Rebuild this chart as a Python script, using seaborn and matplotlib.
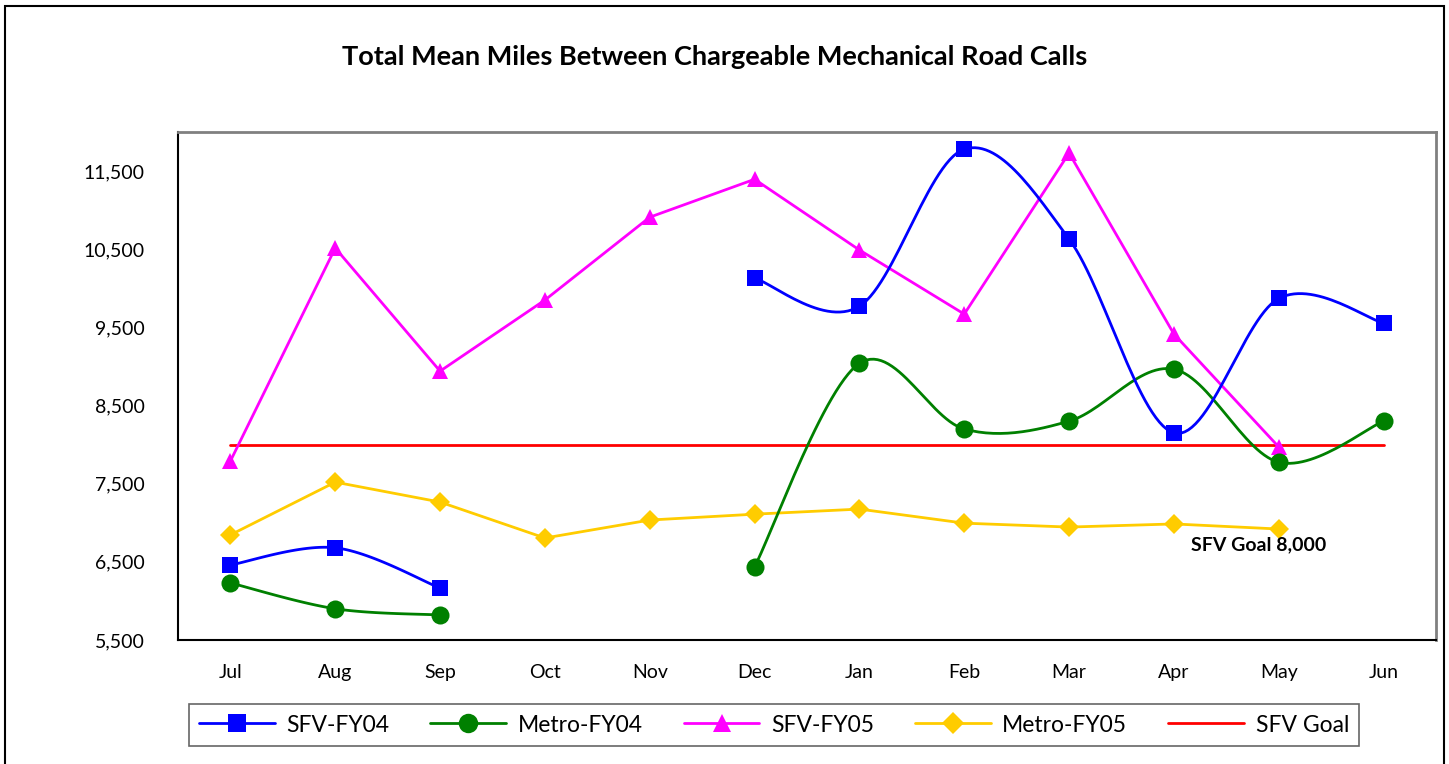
import numpy as np
import pandas as pd
import matplotlib
matplotlib.use("Agg")
import matplotlib.pyplot as plt
from matplotlib.lines import Line2D
from matplotlib.patches import Rectangle
import seaborn as sns

months = ["Jul", "Aug", "Sep", "Oct", "Nov", "Dec", "Jan", "Feb", "Mar", "Apr", "May", "Jun"]
sfv_fy04 = [6460, 6680, 6165, None, None, 10130, 9770, 11780, 10630, 8150, 9870, 9555]
metro_fy04 = [6230, 5900, 5820, None, None, 6435, 9040, 8200, 8300, 8965, 7775, 8300]
sfv_fy05 = [7790, 10515, 8940, 9850, 10910, 11395, 10490, 9670, 11730, 9415, 7970, None]
metro_fy05 = [6845, 7520, 7265, 6805, 7035, 7110, 7175, 6995, 6945, 6985, 6920, None]
sfv_goal = 8000

C_SFV04 = "#0000ff"
C_MET04 = "#008000"
C_SFV05 = "#ff00ff"
C_MET05 = "#ffcc00"
C_GOAL = "#ff0000"


def smooth_segments(vals, steps=30):
    # excel style smoothed line: bezier through points, split at gaps
    runs, cur = [], []
    for i, v in enumerate(vals):
        if v is None:
            if cur:
                runs.append(cur)
            cur = []
        else:
            cur.append((i, v))
    if cur:
        runs.append(cur)
    out = []
    t = np.linspace(0, 1, steps)[:, None]
    for run in runs:
        p = np.array(run, dtype=float)
        if len(p) < 2:
            continue
        pts = []
        for k in range(len(p) - 1):
            p0 = p[k - 1] if k > 0 else p[k]
            p1, p2 = p[k], p[k + 1]
            p3 = p[k + 2] if k + 2 < len(p) else p[k + 1]
            c1 = p1 + (p2 - p0) / 6
            c2 = p2 - (p3 - p1) / 6
            b = ((1 - t) ** 3) * p1 + 3 * ((1 - t) ** 2) * t * c1 + 3 * (1 - t) * t ** 2 * c2 + t ** 3 * p2
            pts.append(b)
        out.append(np.vstack(pts))
    return out


sns.set_style("white")
plt.rcParams["font.family"] = ["Lato", "DejaVu Sans"]
plt.rcParams["text.color"] = "black"
plt.rcParams["xtick.color"] = "black"
plt.rcParams["ytick.color"] = "black"

fig = plt.figure(figsize=(14.49, 7.64), dpi=100)
ax = fig.add_axes([178 / 1449, 124 / 764, 1258 / 1449, 508 / 764])

x = np.arange(len(months))
df = pd.DataFrame({"x": x, "SFV-FY05": sfv_fy05, "Metro-FY05": metro_fy05,
                   "SFV-FY04": sfv_fy04, "Metro-FY04": metro_fy04}).astype(float)

# straight series
sns.lineplot(data=df, x="x", y="Metro-FY05", ax=ax, color=C_MET05, lw=2, marker="D",
             markersize=10, markeredgewidth=0, zorder=3)
sns.lineplot(data=df, x="x", y="SFV-FY05", ax=ax, color=C_SFV05, lw=2, marker="^",
             markersize=12, markeredgewidth=0, zorder=4)

# smoothed series
for vals, col, c, m, ms in [(metro_fy04, "Metro-FY04", C_MET04, "o", 13),
                            (sfv_fy04, "SFV-FY04", C_SFV04, "s", 12)]:
    for seg in smooth_segments(vals):
        ax.plot(seg[:, 0], seg[:, 1], color=c, lw=2, zorder=5)
    ax.plot(df["x"], df[col], ls="none", marker=m, color=c, markersize=ms,
            markeredgewidth=0, zorder=6)

ax.plot([0, len(months) - 1], [sfv_goal, sfv_goal], color=C_GOAL, lw=2, zorder=2)

ax.set_xlim(-0.5, len(months) - 0.5)
ax.set_ylim(5500, 12000)
ax.set_xticks(x)
ax.set_xticklabels(months)
ax.set_xticks(np.arange(-0.5, len(months)), minor=True)
ax.tick_params(axis="x", which="major", length=0, pad=17, labelsize=14)
ax.tick_params(axis="x", which="minor", length=7, width=1.2, color="black", direction="out")
ax.set_yticks(np.arange(5500, 12000, 1000))
ax.set_yticklabels([f"{v:,}" for v in range(5500, 12000, 1000)])
ax.tick_params(axis="y", length=7, width=1.2, color="black", direction="out", pad=17, labelsize=14)
ax.set_xlabel("")
ax.set_ylabel("")

for s in ["left", "bottom"]:
    ax.spines[s].set_color("black")
    ax.spines[s].set_linewidth(1.5)
for s in ["top", "right"]:
    ax.spines[s].set_color("#808080")
    ax.spines[s].set_linewidth(2)

ax.text(9.81, 6715, "SFV Goal 8,000", fontsize=14, fontweight="bold", ha="center", va="center")

fig.text(715 / 1449, 1 - 57 / 764, "Total Mean Miles Between Chargeable Mechanical Road Calls",
         ha="center", va="center", fontsize=19.5, fontweight="bold")

handles = [
    Line2D([], [], color=C_SFV04, lw=2, marker="s", markersize=13, markeredgewidth=0),
    Line2D([], [], color=C_MET04, lw=2, marker="o", markersize=14, markeredgewidth=0),
    Line2D([], [], color=C_SFV05, lw=2, marker="^", markersize=13, markeredgewidth=0),
    Line2D([], [], color=C_MET05, lw=2, marker="D", markersize=11, markeredgewidth=0),
    Line2D([], [], color=C_GOAL, lw=2),
]
labels = ["SFV-FY04", "Metro-FY04", "SFV-FY05", "Metro-FY05", "SFV Goal"]
leg = fig.legend(handles, labels, loc="center", bbox_to_anchor=(774 / 1449, 1 - 725 / 764),
                 ncol=5, fontsize=16.5, frameon=True, fancybox=False, handlelength=3.3,
                 columnspacing=1.8, handletextpad=0.5, borderpad=0.45, borderaxespad=0)
leg.get_frame().set_edgecolor("#404040")
leg.get_frame().set_linewidth(1.2)

fig.patches.append(Rectangle((5 / 1449, -0.01), 1439 / 1449, 1 - 6 / 764 + 0.01,
                             transform=fig.transFigure, fill=False, edgecolor="black",
                             linewidth=1.5, zorder=0))

fig.savefig("out.png", dpi=100)
